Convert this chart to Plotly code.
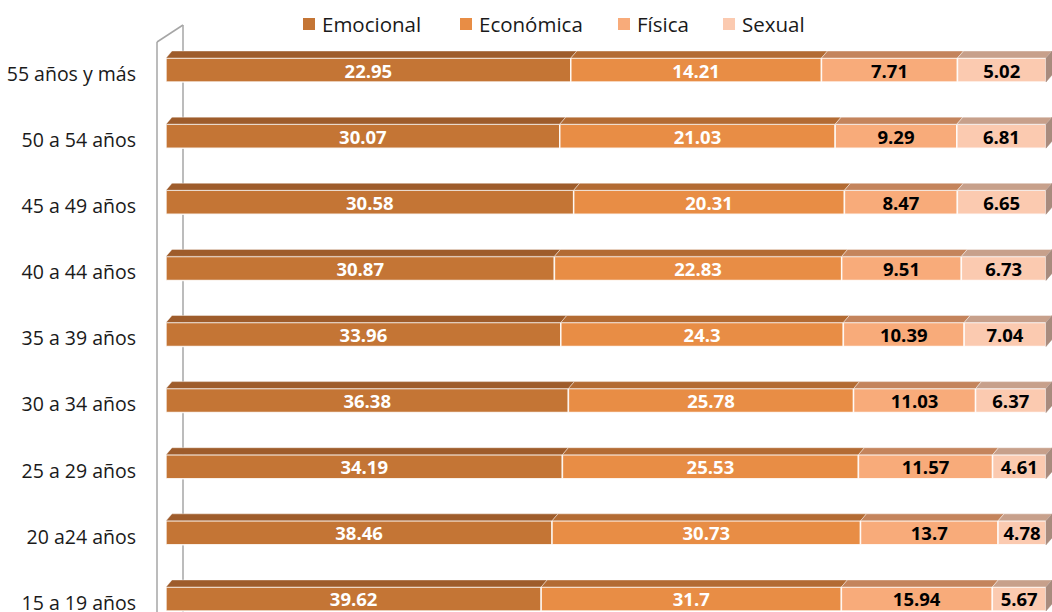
import numpy as np
import plotly.graph_objects as go

categories = ["15 a 19 años", "20 a24 años", "25 a 29 años", "30 a 34 años", "35 a 39 años",
              "40 a 44 años", "45 a 49 años", "50 a 54 años", "55 años y más"]
emocional = [39.62, 38.46, 34.19, 36.38, 33.96, 30.87, 30.58, 30.07, 22.95]
economica = [31.7, 30.73, 25.53, 25.78, 24.3, 22.83, 20.31, 21.03, 14.21]
fisica = [15.94, 13.7, 11.57, 11.03, 10.39, 9.51, 8.47, 9.29, 7.71]
sexual = [5.67, 4.78, 4.61, 6.37, 7.04, 6.73, 6.65, 6.81, 5.02]

series_names = ["Emocional", "Económica", "Física", "Sexual"]
series_vals = [emocional, economica, fisica, sexual]
front_colors = ["#C47535", "#E88D45", "#F8AB7A", "#FBCAB0"]
top_colors = ["#9E5C2B", "#B36B33", "#C4845C", "#C7A08B"]
side_color = "#A88B7D"
text_colors = ["white", "white", "black", "black"]
legend_x_px = [303, 460, 618, 723]

W, H = 1052, 612
ML, MR = 166, 0
x_end = 100.68
px_per_x = (W - ML - MR) / x_end
y_range = [-0.197, 9.059]
px_per_y = H / (y_range[1] - y_range[0])
bar_w = 24 / px_per_y
dx = 6 / px_per_x
dy = 7 / px_per_y

ypos = np.arange(len(categories))
vals = np.array(series_vals, dtype=float)
pct = vals / vals.sum(axis=0) * 100
cum = np.vstack([np.zeros(len(categories)), np.cumsum(pct, axis=0)])

fig = go.Figure()

# 3D top faces and side face, derived from the data
for s in range(len(series_names)):
    xs, ys = [], []
    for i, y in enumerate(ypos):
        x0, x1 = cum[s, i], cum[s + 1, i]
        yt = y + bar_w / 2
        xs += [x0, x1, x1 + dx, x0 + dx, x0, None]
        ys += [yt, yt, yt + dy, yt + dy, yt, None]
    fig.add_trace(go.Scatter(x=xs, y=ys, fill="toself", fillcolor=top_colors[s], mode="lines",
                             line=dict(color="rgba(255,255,255,0.5)", width=0.8),
                             hoverinfo="skip", showlegend=False))
xs, ys = [], []
for i, y in enumerate(ypos):
    x1 = cum[-1, i]
    yb, yt = y - bar_w / 2, y + bar_w / 2
    xs += [x1, x1 + dx, x1 + dx, x1, x1, None]
    ys += [yb, yb + dy, yt + dy, yt, yb, None]
fig.add_trace(go.Scatter(x=xs, y=ys, fill="toself", fillcolor=side_color, mode="lines",
                         line=dict(color=side_color, width=0.5), hoverinfo="skip", showlegend=False))

for s, name in enumerate(series_names):
    fig.add_trace(go.Bar(
        y=ypos, x=pct[s], base=cum[s], orientation="h", name=name, width=bar_w,
        marker=dict(color=front_colors[s], line=dict(color="rgba(255,255,255,0.85)", width=1.5)),
        text=[f"{v:g}" for v in series_vals[s]], textposition="inside", insidetextanchor="middle",
        textfont=dict(family="Open Sans", size=18.5, color=text_colors[s], weight="bold"),
        textangle=0, constraintext="none", showlegend=False, cliponaxis=False,
    ))

# left wall edges (axis decoration)
pw = W - ML - MR
wall = dict(color="#A6A6A6", width=1.5)
xf, xb = -(ML - 157) / pw, (183 - ML) / pw
fig.add_shape(type="line", xref="paper", yref="paper", x0=xf, x1=xf, y0=0, y1=1 - 42 / H, line=wall)
fig.add_shape(type="line", xref="paper", yref="paper", x0=xf, x1=xb, y0=1 - 42 / H, y1=1 - 25 / H, line=wall)
fig.add_shape(type="line", xref="paper", yref="paper", x0=xb, x1=xb, y0=0, y1=1 - 25 / H, line=wall,
              layer="below")

# legend (manual)
for s, name in enumerate(series_names):
    lx = (legend_x_px[s] - ML) / pw
    fig.add_shape(type="rect", xref="paper", yref="paper",
                  x0=lx, x1=lx + 12 / pw, y0=1 - 30 / H, y1=1 - 18 / H,
                  fillcolor=front_colors[s], line=dict(width=0))
    fig.add_annotation(xref="paper", yref="paper", x=lx + 17 / pw, y=1 - 24 / H, text=name,
                       showarrow=False, xanchor="left", yanchor="middle",
                       font=dict(family="Open Sans", size=20.5, color="#1a1a1a"))

fig.update_layout(
    width=W, height=H, barmode="overlay",
    margin=dict(l=ML, r=MR, t=0, b=0, autoexpand=False),
    plot_bgcolor="white", paper_bgcolor="white",
    font=dict(family="Open Sans", size=19.5, color="#1a1a1a"),
    xaxis=dict(range=[0, x_end], visible=False, fixedrange=True, automargin=False),
    yaxis=dict(range=y_range, tickvals=list(ypos), ticktext=categories, showgrid=False,
               zeroline=False, showline=False, ticks="", ticklabelstandoff=29,
               ticklabelshift=4, automargin=False, ticklabeloverflow="allow"),
    showlegend=False,
)

fig.write_html("out.html", config={"displayModeBar": False},
               post_script="document.body.style.margin='0';document.body.style.overflow='hidden';")
